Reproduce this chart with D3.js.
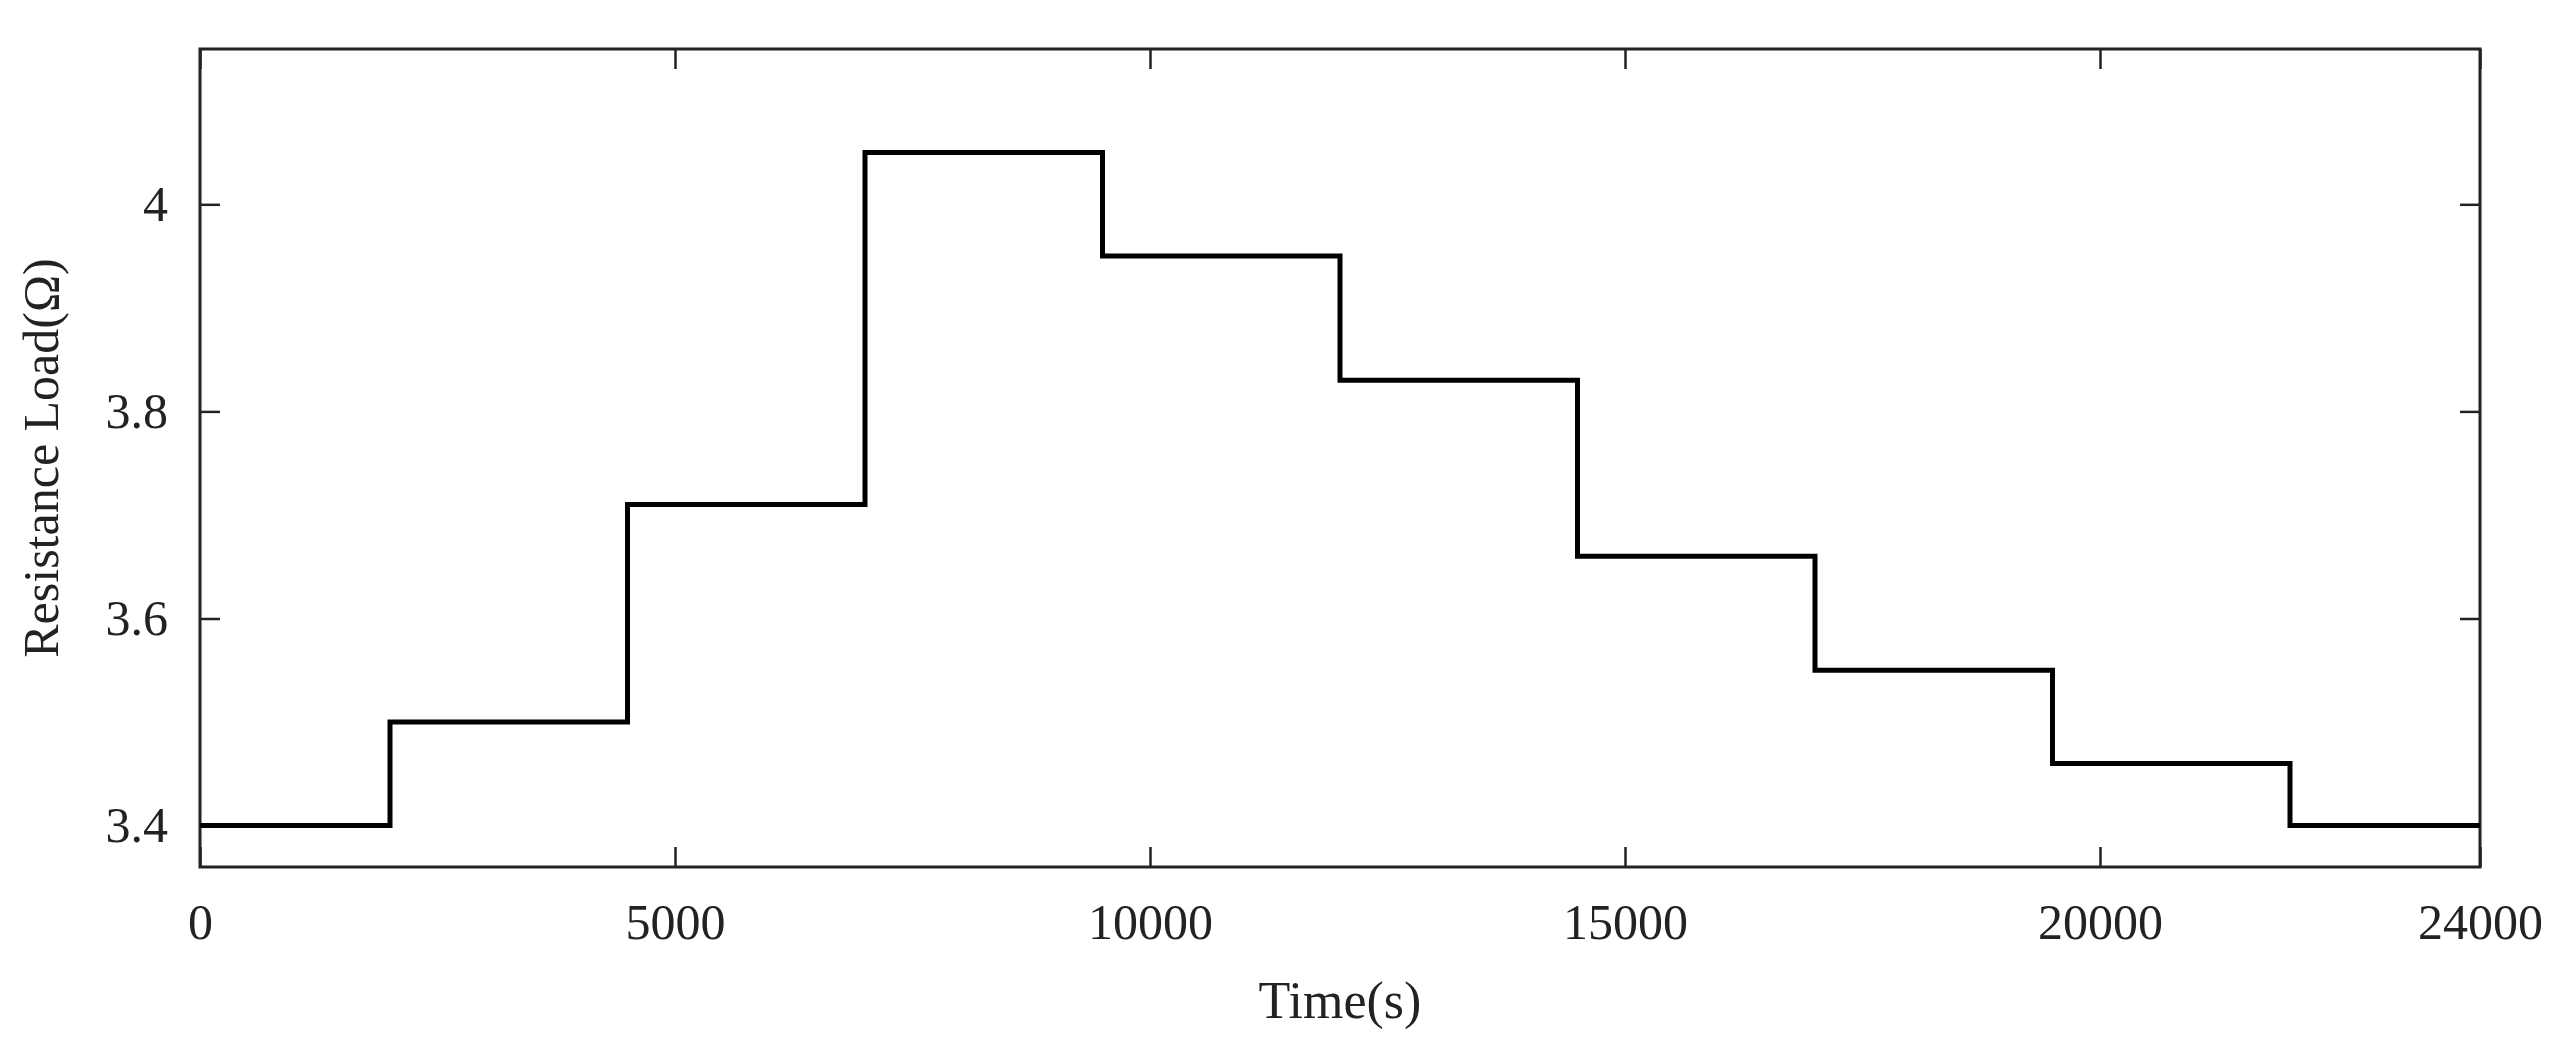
<!DOCTYPE html>
<html><head><meta charset="utf-8">
<script src="https://cdn.jsdelivr.net/npm/d3@7"></script>
<style>body{margin:0;background:#fff}svg{display:block}text{font-family:"Liberation Serif","Times New Roman",serif;fill:#222}</style>
</head><body>
<script>
// step load profile: value holds from stepStart[i] until the next start
const stepStart = [0, 2000, 4500, 7000, 9500, 12000, 14500, 17000, 19500, 22000, 24000];
const stepValue = [3.4, 3.5, 3.71, 4.05, 3.95, 3.83, 3.66, 3.55, 3.46, 3.4, 3.4];
const xTicks = [0, 5000, 10000, 15000, 20000, 24000];
const yTicks = [3.4, 3.6, 3.8, 4];

const w = 2575, h = 1055;
const margin = {top: 49, right: 95, bottom: 188, left: 200};
const svg = d3.select("body").append("svg").attr("width", w).attr("height", h);
const iw = w - margin.left - margin.right, ih = h - margin.top - margin.bottom;
const g = svg.append("g").attr("transform", `translate(${margin.left},${margin.top})`);

const x = d3.scaleLinear().domain([0, 24000]).range([0, iw]);
const y = d3.scaleLinear().domain([3.36, 4.15]).range([ih, 0]);

const tl = 20;
function style(sel, hideText) {
  sel.select(".domain").remove();
  sel.selectAll("line").attr("stroke", "#222").attr("stroke-width", 2.5);
  sel.selectAll("text").style("font-size", "50px");
  if (hideText) sel.selectAll("text").remove();
}
g.append("g").attr("transform", `translate(0,${ih})`)
  .call(d3.axisBottom(x).tickValues(xTicks).tickFormat(d3.format("d")).tickSizeInner(-tl).tickPadding(36))
  .call(s => style(s));
g.append("g").call(d3.axisTop(x).tickValues(xTicks).tickSizeInner(-tl)).call(s => style(s, true));
g.append("g")
  .call(d3.axisLeft(y).tickValues(yTicks).tickFormat(d => d3.format("")(d)).tickSizeInner(-tl).tickPadding(32))
  .call(s => style(s));
g.append("g").attr("transform", `translate(${iw},0)`)
  .call(d3.axisRight(y).tickValues(yTicks).tickSizeInner(-tl)).call(s => style(s, true));

g.append("rect").attr("width", iw).attr("height", ih)
  .attr("fill", "none").attr("stroke", "#222").attr("stroke-width", 3);

const pts = stepStart.map((t, i) => [t, stepValue[i]]);
g.append("path").datum(pts)
  .attr("fill", "none").attr("stroke", "#000").attr("stroke-width", 5)
  .attr("d", d3.line().x(d => x(d[0])).y(d => y(d[1])).curve(d3.curveStepAfter));

svg.append("text").attr("x", margin.left + iw / 2).attr("y", 1018)
  .attr("text-anchor", "middle").style("font-size", "52px").text("Time(s)");
svg.append("text").attr("transform", `translate(58,${margin.top + ih / 2}) rotate(-90)`)
  .attr("text-anchor", "middle").style("font-size", "50px").text("Resistance Load(Ω)");
</script>
</body></html>
